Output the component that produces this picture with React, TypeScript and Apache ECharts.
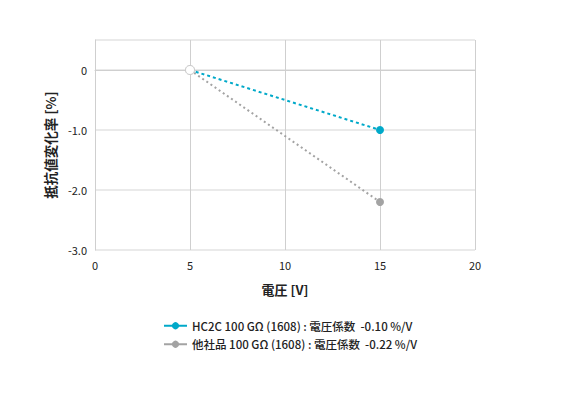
import React, { useEffect, useRef } from "react";
import * as echarts from "echarts";

const voltages = [5, 15];
const hc2cValues = [0, -1.0];
const otherValues = [0, -2.2];
const seriesNames = [
  "HC2C 100 GΩ (1608) : 電圧係数  -0.10 %/V",
  "他社品 100 GΩ (1608) : 電圧係数  -0.22 %/V",
];
const xTicks = [0, 5, 10, 15, 20];
const yTicks = [-3, -2, -1, 0];

const FONT = "'Noto Sans CJK JP', 'Noto Sans', sans-serif";

export default function App() {
  const ref = useRef<HTMLDivElement>(null);
  useEffect(() => {
    const chart = echarts.init(ref.current!, null, { renderer: "svg" });
    const mk = (vals: number[], color: string) =>
      vals.map((v, i) =>
        i === 0
          ? {
              value: [voltages[i], v],
              symbol: "circle",
              symbolSize: 9,
              itemStyle: { color: "#fff", borderColor: "#ccc", borderWidth: 1 },
            }
          : { value: [voltages[i], v], itemStyle: { color } }
      );
    chart.setOption({
      animation: false,
      textStyle: { fontFamily: FONT },
      grid: { left: 95, right: 95, top: 40, bottom: 143 },
      legend: {
        orient: "vertical",
        left: 158,
        top: 315,
        itemGap: 7,
        itemWidth: 23,
        itemHeight: 9,
        lineStyle: { type: "solid", width: 2 },
        textStyle: { fontFamily: FONT, fontSize: 11.5, color: "#222", fontWeight: 500 },
        data: [seriesNames[0], seriesNames[1]],
      },
      xAxis: {
        type: "value",
        min: xTicks[0],
        max: xTicks[xTicks.length - 1],
        interval: 5,
        name: "電圧 [V]",
        nameLocation: "middle",
        nameGap: 33,
        nameTextStyle: { fontFamily: FONT, fontSize: 13, color: "#222", fontWeight: "bold" },
        axisLine: { show: true, lineStyle: { color: "#cfcfcf" } },
        axisTick: { show: false },
        splitLine: { show: true, lineStyle: { color: "#cfcfcf" } },
        axisLabel: { fontFamily: FONT, fontSize: 11, color: "#222", margin: 9 },
      },
      yAxis: {
        type: "value",
        min: yTicks[0],
        max: 0.5,
        interval: 1,
        name: "抵抗値変化率 [%]",
        nameLocation: "middle",
        nameGap: 36,
        nameTextStyle: { fontFamily: FONT, fontSize: 13.5, color: "#222", fontWeight: "bold" },
        axisLine: { show: true, lineStyle: { color: "#cfcfcf" } },
        axisTick: { show: false },
        splitLine: { show: true, lineStyle: { color: "#e3e3e3", width: 1.5 } },
        axisLabel: {
          fontFamily: FONT,
          fontSize: 11,
          color: "#222",
          margin: 8,
          showMaxLabel: false,
          formatter: (v: number) => (v === 0 ? "0" : v.toFixed(1)),
        },
      },
      series: [
        {
          name: seriesNames[1],
          type: "line",
          data: mk(otherValues, "#a3a3a3"),
          symbol: "circle",
          symbolSize: 8,
          itemStyle: { color: "#a3a3a3" },
          lineStyle: { color: "#a3a3a3", type: [2, 3], width: 2 },
          z: 2,
        },
        {
          name: seriesNames[0],
          type: "line",
          data: mk(hc2cValues, "#00a9c9"),
          symbol: "circle",
          symbolSize: 8,
          itemStyle: { color: "#00a9c9" },
          lineStyle: { color: "#00a9c9", type: [3, 3], width: 2 },
          z: 3,
        },
      ],
    });
    return () => chart.dispose();
  }, []);
  return <div ref={ref} style={{ width: 570, height: 393, margin: -8 }} />;
}
